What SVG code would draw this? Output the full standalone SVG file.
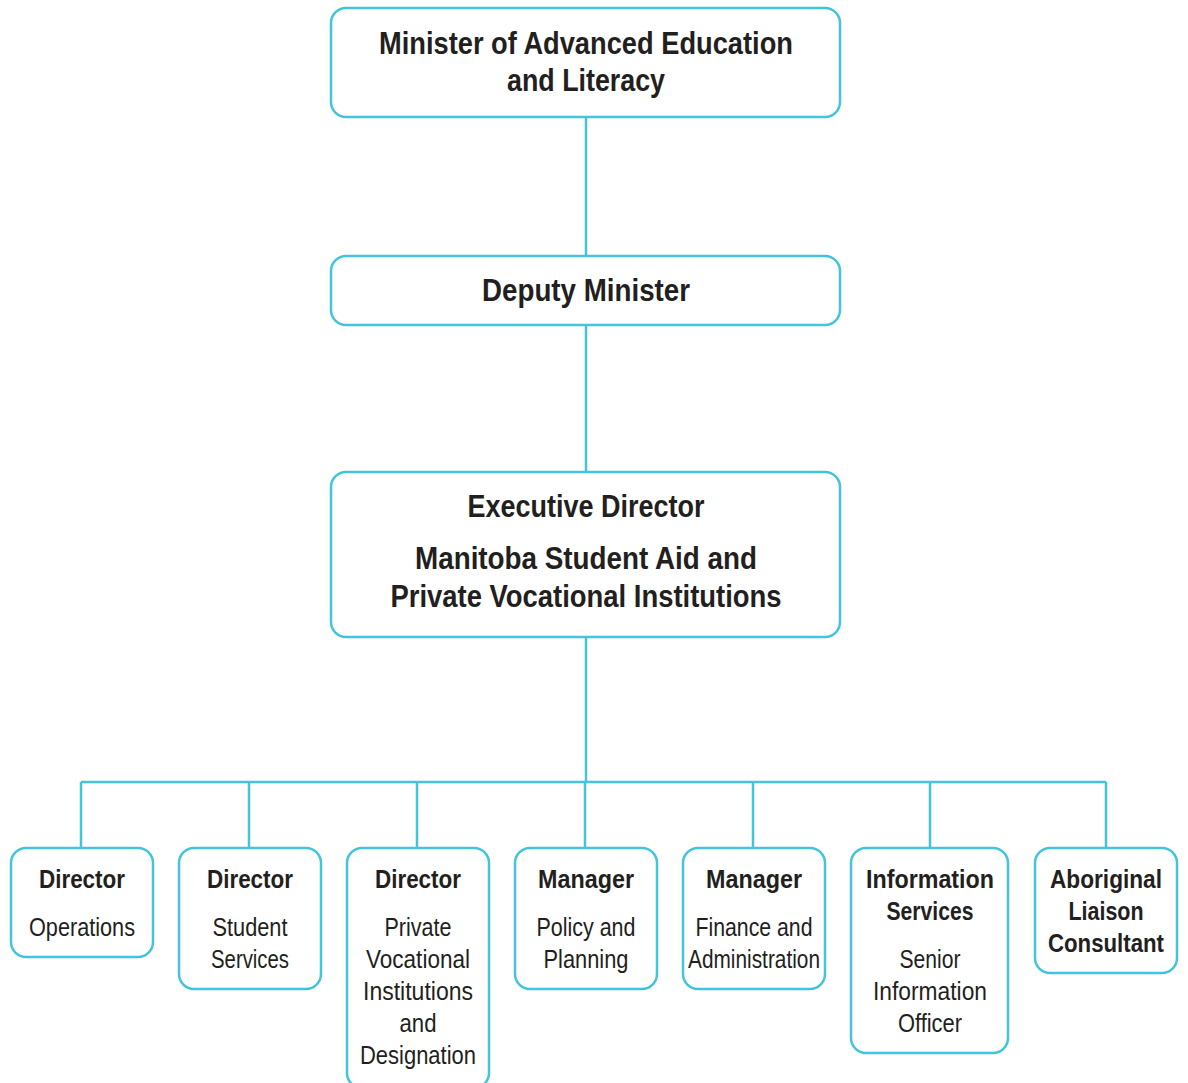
<svg xmlns="http://www.w3.org/2000/svg" width="1188" height="1083" viewBox="0 0 1188 1083">
<style>
.box{fill:#fff;stroke:#41c4dc;stroke-width:2.5}
.conn{fill:none;stroke:#41c4dc;stroke-width:2.5}
text{font-family:"Liberation Sans",Arial,sans-serif;fill:#231f20;text-anchor:middle}
.t1{font-size:31px;font-weight:bold}
.b{font-size:25px;font-weight:bold}
.r{font-size:25px}
</style>
<rect width="1188" height="1083" fill="#fff"/>
<g id="connectors">
<path class="conn" d="M586 117V256M586 325V472M586 637V782M81 782H1106M81 782V848M249 782V848M417 782V848M585 782V848M753 782V848M930 782V848M1106 782V848"/>
</g>
<g id="minister">
<rect class="box" x="331" y="8" width="509" height="109" rx="15"/>
<text class="t1" x="586" y="54" textLength="414" lengthAdjust="spacingAndGlyphs">Minister of Advanced Education</text>
<text class="t1" x="586" y="91" textLength="158" lengthAdjust="spacingAndGlyphs">and Literacy</text>
</g>
<g id="deputy">
<rect class="box" x="331" y="256" width="509" height="69" rx="15"/>
<text class="t1" x="586" y="301" textLength="208" lengthAdjust="spacingAndGlyphs">Deputy Minister</text>
</g>
<g id="executive">
<rect class="box" x="331" y="472" width="509" height="165" rx="15"/>
<text class="t1" x="586" y="517" textLength="237" lengthAdjust="spacingAndGlyphs">Executive Director</text>
<text class="t1" x="586" y="569" textLength="342" lengthAdjust="spacingAndGlyphs">Manitoba Student Aid and</text>
<text class="t1" x="586" y="607" textLength="391" lengthAdjust="spacingAndGlyphs">Private Vocational Institutions</text>
</g>
<g id="operations">
<rect class="box" x="11" y="848" width="142" height="109" rx="15"/>
<text class="b" x="82" y="888" textLength="86" lengthAdjust="spacingAndGlyphs">Director</text>
<text class="r" x="82" y="936" textLength="106" lengthAdjust="spacingAndGlyphs">Operations</text>
</g>
<g id="student-services">
<rect class="box" x="179" y="848" width="142" height="141" rx="15"/>
<text class="b" x="250" y="888" textLength="86" lengthAdjust="spacingAndGlyphs">Director</text>
<text class="r" x="250" y="936" textLength="75" lengthAdjust="spacingAndGlyphs">Student</text>
<text class="r" x="250" y="968" textLength="78" lengthAdjust="spacingAndGlyphs">Services</text>
</g>
<g id="pvi">
<rect class="box" x="347" y="848" width="142" height="240" rx="15"/>
<text class="b" x="418" y="888" textLength="86" lengthAdjust="spacingAndGlyphs">Director</text>
<text class="r" x="418" y="936" textLength="67" lengthAdjust="spacingAndGlyphs">Private</text>
<text class="r" x="418" y="968" textLength="104" lengthAdjust="spacingAndGlyphs">Vocational</text>
<text class="r" x="418" y="1000" textLength="110" lengthAdjust="spacingAndGlyphs">Institutions</text>
<text class="r" x="418" y="1032" textLength="37" lengthAdjust="spacingAndGlyphs">and</text>
<text class="r" x="418" y="1064" textLength="116" lengthAdjust="spacingAndGlyphs">Designation</text>
</g>
<g id="policy">
<rect class="box" x="515" y="848" width="142" height="141" rx="15"/>
<text class="b" x="586" y="888" textLength="96" lengthAdjust="spacingAndGlyphs">Manager</text>
<text class="r" x="586" y="936" textLength="99" lengthAdjust="spacingAndGlyphs">Policy and</text>
<text class="r" x="586" y="968" textLength="85" lengthAdjust="spacingAndGlyphs">Planning</text>
</g>
<g id="finance">
<rect class="box" x="683" y="848" width="142" height="141" rx="15"/>
<text class="b" x="754" y="888" textLength="96" lengthAdjust="spacingAndGlyphs">Manager</text>
<text class="r" x="754" y="936" textLength="117" lengthAdjust="spacingAndGlyphs">Finance and</text>
<text class="r" x="754" y="968" textLength="132" lengthAdjust="spacingAndGlyphs">Administration</text>
</g>
<g id="info-services">
<rect class="box" x="851" y="848" width="157" height="205" rx="15"/>
<text class="b" x="930" y="888" textLength="128" lengthAdjust="spacingAndGlyphs">Information</text>
<text class="b" x="930" y="920" textLength="87" lengthAdjust="spacingAndGlyphs">Services</text>
<text class="r" x="930" y="968" textLength="61" lengthAdjust="spacingAndGlyphs">Senior</text>
<text class="r" x="930" y="1000" textLength="114" lengthAdjust="spacingAndGlyphs">Information</text>
<text class="r" x="930" y="1032" textLength="64" lengthAdjust="spacingAndGlyphs">Officer</text>
</g>
<g id="aboriginal">
<rect class="box" x="1035" y="848" width="142" height="125" rx="15"/>
<text class="b" x="1106" y="888" textLength="112" lengthAdjust="spacingAndGlyphs">Aboriginal</text>
<text class="b" x="1106" y="920" textLength="75" lengthAdjust="spacingAndGlyphs">Liaison</text>
<text class="b" x="1106" y="952" textLength="116" lengthAdjust="spacingAndGlyphs">Consultant</text>
</g>
</svg>
